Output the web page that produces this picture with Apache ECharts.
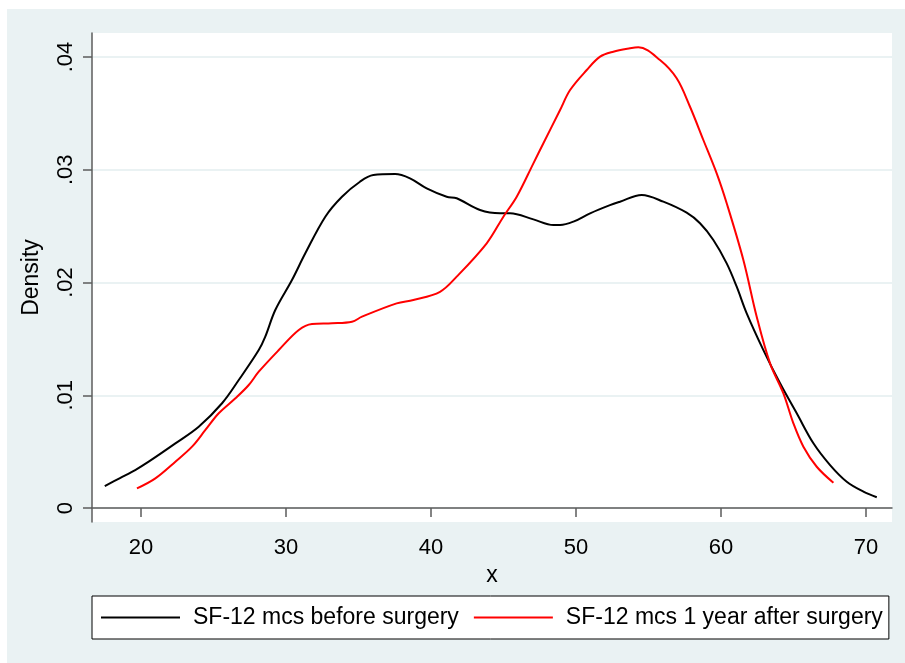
<!DOCTYPE html>
<html>
<head>
<meta charset="utf-8">
<script src="https://cdn.jsdelivr.net/npm/echarts@6/dist/echarts.min.js"></script>
<style>
  html, body { margin: 0; padding: 0; background: #ffffff; }
  #bg { position: absolute; left: 7px; top: 9px; width: 898px; height: 654px; background: #EAF2F3; }
  #chart { position: absolute; left: 0; top: 0; width: 905px; height: 663px; }
</style>
</head>
<body>
<div id="bg"></div>
<div id="chart"></div>
<script>
// Data (x, density)
const beforeX = [17.5, 18.55, 19.6, 20.53, 22.37, 23.98, 25.59, 26.74, 28.12, 28.57, 29.26, 30.41, 31.33, 32.71, 33.86, 35.1, 36.02, 37.52, 38.55, 39.7, 41.08, 41.77, 43.38, 44.76, 45.45, 47.06, 48.44, 48.9, 49.82, 50.97, 52.34, 53.03, 54.53, 56.02, 57.63, 58.55, 59.47, 60.39, 61.08, 61.77, 62.92, 64.07, 65.22, 66.37, 67.52, 68.67, 69.82, 70.74];
const beforeY = [0.00195, 0.00266, 0.00337, 0.00411, 0.00573, 0.00721, 0.00929, 0.01135, 0.01401, 0.0152, 0.01756, 0.02022, 0.02259, 0.02584, 0.02761, 0.02894, 0.02953, 0.02962, 0.02924, 0.02835, 0.02761, 0.02747, 0.02643, 0.02614, 0.02614, 0.0256, 0.0251, 0.0251, 0.0254, 0.02614, 0.02687, 0.02717, 0.02776, 0.02717, 0.02619, 0.02525, 0.02377, 0.0217, 0.01963, 0.01727, 0.01401, 0.01106, 0.0084, 0.00574, 0.00381, 0.00233, 0.00145, 0.00095];
const afterX = [19.72, 20.99, 22.37, 23.52, 24.44, 25.36, 26.51, 27.43, 28.12, 29.5, 30.88, 31.79, 33.17, 34.55, 35.24, 37.63, 38.78, 40.62, 41.77, 43.84, 44.99, 45.91, 47.06, 47.75, 48.9, 49.59, 50.74, 51.66, 52.57, 53.72, 54.3, 55.79, 56.94, 57.86, 58.78, 59.7, 60.39, 61.54, 62.46, 63.38, 64.3, 64.99, 65.68, 66.6, 67.75];
const afterY = [0.00174, 0.00263, 0.00411, 0.00544, 0.00692, 0.0084, 0.00973, 0.01091, 0.01209, 0.01401, 0.01579, 0.01632, 0.01638, 0.01652, 0.01697, 0.01815, 0.01845, 0.01918, 0.02052, 0.02348, 0.02584, 0.02761, 0.03057, 0.03235, 0.0353, 0.03707, 0.03885, 0.04003, 0.04047, 0.04077, 0.04086, 0.03973, 0.03811, 0.03559, 0.03264, 0.02968, 0.02703, 0.022, 0.01697, 0.01283, 0.01017, 0.00751, 0.00544, 0.00366, 0.00224];
const xTicks = [20, 30, 40, 50, 60, 70];
const yTicks = [0, 0.01, 0.02, 0.03, 0.04];
const yTickLabels = ['0', '.01', '.02', '.03', '.04'];
const seriesNames = ['SF-12 mcs before surgery', 'SF-12 mcs 1 year after surgery'];

const zip = (xs, ys) => xs.map((v, i) => [v, ys[i]]);
const FONT = 'Liberation Sans, Arial, sans-serif';
const AXIS_COLOR = '#5c5c5c';

const chart = echarts.init(document.getElementById('chart'), null, { renderer: 'canvas' });
chart.setOption({
  backgroundColor: 'transparent',
  animation: false,
  textStyle: { fontFamily: FONT },
  grid: {
    left: 92, right: 13, top: 33, bottom: 141,
    show: true, backgroundColor: '#ffffff', borderWidth: 0
  },
  xAxis: {
    type: 'value',
    min: 16.62, max: 71.79,
    name: 'x', nameLocation: 'middle', nameGap: 40,
    nameTextStyle: { color: '#000', fontSize: 23, fontFamily: FONT },
    axisLine: { show: true, lineStyle: { color: AXIS_COLOR, width: 1.5 } },
    axisTick: { show: true, length: 9, lineStyle: { color: AXIS_COLOR, width: 1.5 }, customValues: xTicks },
    axisLabel: { color: '#000', fontSize: 22, margin: 15, fontFamily: FONT, customValues: xTicks },
    splitLine: { show: false }
  },
  yAxis: {
    type: 'value',
    min: -0.00124, max: 0.04213,
    name: 'Density', nameLocation: 'middle', nameGap: 49, nameRotate: 90,
    nameTextStyle: { color: '#000', fontSize: 23, fontFamily: FONT },
    axisLine: { show: true, lineStyle: { color: AXIS_COLOR, width: 1.5 } },
    axisTick: { show: true, length: 9, lineStyle: { color: AXIS_COLOR, width: 1.5 }, customValues: yTicks },
    axisLabel: {
      color: '#000', fontSize: 22, margin: 15, rotate: 90, fontFamily: FONT,
      customValues: yTicks,
      formatter: v => {
        const i = yTicks.findIndex(t => Math.abs(t - v) < 1e-9);
        return i >= 0 ? yTickLabels[i] : '';
      }
    },
    splitLine: { show: true, lineStyle: { color: '#EAF2F3', width: 2 } }
  },
  legend: {
    left: 92, top: 596,
    padding: [10, 6, 10, 9],
    icon: 'rect',
    itemWidth: 79, itemHeight: 2, itemGap: 15,
    borderColor: '#000', borderWidth: 1, backgroundColor: '#ffffff',
    textStyle: { color: '#000', fontSize: 23, fontFamily: FONT, padding: [0, 0, 0, 8] },
    data: seriesNames
  },
  series: [
    {
      name: seriesNames[0], type: 'line', data: zip(beforeX, beforeY),
      smooth: 0.35, showSymbol: false, symbol: 'none',
      lineStyle: { color: '#000000', width: 2 }, itemStyle: { color: '#000000' }
    },
    {
      name: seriesNames[1], type: 'line', data: zip(afterX, afterY),
      smooth: 0.35, showSymbol: false, symbol: 'none',
      lineStyle: { color: '#ff0000', width: 2 }, itemStyle: { color: '#ff0000' }
    }
  ]
});
</script>
</body>
</html>
